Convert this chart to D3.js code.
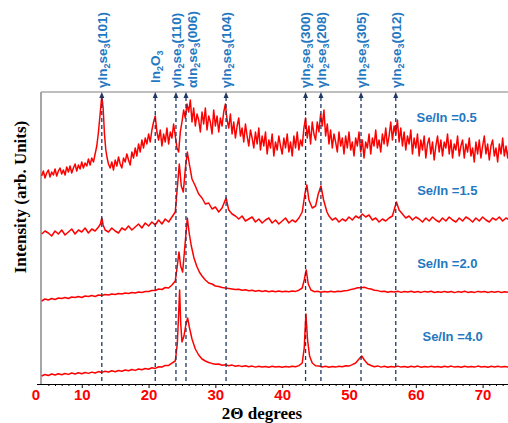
<!DOCTYPE html>
<html>
<head>
<meta charset="utf-8">
<script src="https://cdnjs.cloudflare.com/ajax/libs/d3/7.8.5/d3.min.js"></script>
<style>
body { margin: 0; background: #fff; }
</style>
</head>
<body>
<div id="chart"></div>
<script>
// ---- data: [2theta, intensity (arb.)] ----
const seIn05 = [[4,208],[4.25,213],[4.5,206],[4.75,211],[5,214],[5.25,207],[5.5,212],[5.75,209],[6,215],[6.25,208],[6.5,213],[6.75,216],[7,210],[7.25,214],[7.5,209],[7.75,217],[8,212],[8.25,218],[8.5,211],[8.75,216],[9,220],[9.25,213],[9.5,219],[9.75,215],[10,222],[10.25,216],[10.5,221],[10.75,218],[11,225],[11.25,219],[11.5,226],[11.75,222],[12,230],[12.25,238],[12.5,252],[12.75,270],[13,288],[13.2,276],[13.4,250],[13.6,234],[13.8,226],[14,220],[14.25,216],[14.5,222],[14.75,214],[15,224],[15.25,218],[15.5,227],[15.75,220],[16,216],[16.25,226],[16.5,222],[16.75,230],[17,224],[17.25,219],[17.5,232],[17.75,226],[18,236],[18.25,228],[18.5,240],[18.75,232],[19,244],[19.25,236],[19.5,246],[19.75,240],[20,250],[20.25,242],[20.5,254],[20.75,262],[21,268],[21.25,252],[21.5,244],[21.75,254],[22,238],[22.25,250],[22.5,242],[22.75,256],[23,240],[23.25,252],[23.5,246],[23.75,260],[24,248],[24.25,236],[24.5,232],[24.75,252],[25,262],[25.25,274],[25.5,266],[25.75,280],[26,272],[26.25,284],[26.5,262],[26.75,276],[27,258],[27.25,270],[27.5,264],[27.75,252],[28,272],[28.25,260],[28.5,276],[28.75,254],[29,268],[29.25,262],[29.5,250],[29.75,274],[30,258],[30.25,268],[30.5,252],[30.75,266],[31,258],[31.25,272],[31.5,280],[31.75,264],[32,256],[32.25,270],[32.5,250],[32.75,262],[33,246],[33.25,258],[33.5,266],[33.75,248],[34,256],[34.25,242],[34.5,260],[34.75,248],[35,238],[35.25,254],[35.5,246],[35.75,236],[36,252],[36.25,240],[36.5,256],[36.75,234],[37,248],[37.25,238],[37.5,252],[37.75,230],[38,244],[38.25,236],[38.5,250],[38.75,228],[39,242],[39.25,234],[39.5,248],[39.75,238],[40,230],[40.25,246],[40.5,236],[40.75,250],[41,232],[41.25,242],[41.5,228],[41.75,248],[42,236],[42.25,252],[42.5,234],[42.75,244],[43,238],[43.25,256],[43.5,266],[43.75,246],[44,258],[44.25,240],[44.5,262],[44.75,250],[45,244],[45.25,262],[45.5,252],[45.75,270],[46,258],[46.25,274],[46.5,248],[46.75,260],[47,240],[47.25,254],[47.5,236],[47.75,250],[48,242],[48.25,232],[48.5,252],[48.75,238],[49,246],[49.25,230],[49.5,248],[49.75,236],[50,252],[50.25,234],[50.5,242],[50.75,228],[51,246],[51.25,238],[51.5,252],[51.75,232],[52,244],[52.25,226],[52.5,242],[52.75,236],[53,250],[53.25,230],[53.5,246],[53.75,238],[54,254],[54.25,236],[54.5,244],[54.75,232],[55,250],[55.25,240],[55.5,256],[55.75,238],[56,248],[56.25,262],[56.5,244],[56.75,258],[57,250],[57.25,264],[57.5,242],[57.75,256],[58,238],[58.25,252],[58.5,234],[58.75,248],[59,240],[59.25,254],[59.5,230],[59.75,246],[60,236],[60.25,250],[60.5,228],[60.75,244],[61,234],[61.25,248],[61.5,226],[61.75,240],[62,246],[62.25,230],[62.5,242],[62.75,224],[63,238],[63.25,248],[63.5,232],[63.75,244],[64,228],[64.25,242],[64.5,236],[64.75,250],[65,230],[65.25,244],[65.5,226],[65.75,240],[66,234],[66.25,248],[66.5,228],[66.75,238],[67,244],[67.25,226],[67.5,240],[67.75,232],[68,246],[68.25,228],[68.5,236],[68.75,222],[69,242],[69.25,230],[69.5,244],[69.75,226],[70,238],[70.25,248],[70.5,230],[70.75,240],[71,224],[71.25,238],[71.5,244],[71.75,228],[72,236],[72.25,222],[72.5,240],[72.75,230],[73,246],[73.25,228],[73.5,238],[73.75,226],[74,240]];

const seIn15 = [[4,150],[4.5,153],[5,151],[5.5,148],[6,153],[6.5,150],[7,154],[7.5,149],[8,152],[8.5,155],[9,150],[9.5,154],[10,152],[10.5,156],[11,151],[11.5,155],[12,153],[12.5,157],[12.8,160],[13,166],[13.2,159],[13.5,154],[14,152],[14.5,156],[15,153],[15.5,151],[16,156],[16.5,154],[17,158],[17.5,154],[18,157],[18.5,160],[19,156],[19.5,161],[20,158],[20.5,162],[21,159],[21.5,164],[22,160],[22.5,165],[23,162],[23.5,167],[24,172],[24.3,196],[24.6,220],[24.9,198],[25.2,192],[25.5,215],[25.8,232],[26.1,220],[26.5,205],[27,198],[27.5,190],[28,186],[28.5,180],[29,181],[29.5,175],[30,177],[30.5,172],[31,176],[31.6,186],[32,174],[32.5,170],[33,168],[33.5,165],[34,168],[34.5,163],[35,165],[35.5,167],[36,162],[36.5,165],[37,161],[37.5,164],[38,166],[38.5,161],[39,164],[39.5,160],[40,163],[40.5,166],[41,161],[41.5,164],[42,162],[42.5,166],[43,172],[43.4,190],[43.7,199],[44,184],[44.5,176],[45,178],[45.4,190],[45.8,198],[46.2,184],[46.7,172],[47,168],[47.5,164],[48,166],[48.5,162],[49,165],[49.5,163],[50,167],[50.5,164],[51,168],[51.5,166],[52,170],[52.5,167],[53,169],[53.5,164],[54,166],[54.5,162],[55,165],[55.5,163],[56,166],[56.5,168],[57.1,182],[57.5,174],[58,170],[58.5,166],[59,168],[59.5,164],[60,167],[60.5,165],[61,162],[61.5,166],[62,163],[62.5,167],[63,164],[63.5,162],[64,166],[64.5,163],[65,167],[65.5,164],[66,162],[66.5,166],[67,163],[67.5,167],[68,165],[68.5,162],[69,166],[69.5,163],[70,167],[70.5,164],[71,162],[71.5,166],[72,164],[72.5,167],[73,163],[73.5,166],[74,164]];

const seIn20 = [[4,83],[4.5,85],[5,84],[5.5,85.5],[6,84.5],[6.5,86],[7,85.5],[7.5,86.5],[8,85.5],[8.5,87],[9,86.5],[9.5,87.5],[10,86.5],[10.5,88],[11,87.5],[11.5,88.5],[12,87.5],[12.5,89],[13,88.5],[13.5,89.5],[14,89],[14.5,90],[15,89.5],[15.5,90.5],[16,90],[16.5,91],[17,90.5],[17.5,91.5],[18,91],[18.5,92],[19,91.5],[19.5,92.5],[20,92.5],[20.5,93.5],[21,93.5],[21.5,95],[22,94.5],[22.5,96.5],[23,96],[23.5,99],[24,103],[24.3,118],[24.55,132],[24.8,118],[25.1,112],[25.4,135],[25.8,166],[26.1,150],[26.4,138],[26.8,126],[27.2,118],[27.6,112],[28,108],[28.5,104],[29,101],[29.5,100],[30,98],[30.5,97.5],[31,96.5],[31.5,96],[32,95.5],[32.5,95],[33,94.5],[33.5,94.8],[34,93.8],[34.5,94.2],[35,93.2],[35.5,93.8],[36,92.8],[36.5,93.5],[37,92.5],[37.5,93.2],[38,92.3],[38.5,93],[39,92.2],[39.5,93],[40,92.2],[40.5,92.8],[41,92.3],[41.5,93],[42,92.6],[42.5,93.8],[43,96],[43.3,104],[43.6,114],[43.9,100],[44.3,94],[44.8,92.3],[45.3,92.8],[45.8,91.8],[46.3,92.6],[46.8,92],[47.3,92.8],[47.8,92],[48.3,92.8],[48.8,92.4],[49.3,93.2],[49.8,93.5],[50.3,94.6],[50.8,95.2],[51.3,96.2],[51.8,96.2],[52.3,96.8],[52.8,95.6],[53.3,95],[53.8,93.8],[54.3,93.4],[54.8,92.4],[55.3,92.8],[55.8,91.8],[56.3,92.6],[56.8,91.9],[57.3,92.7],[57.8,91.6],[58.3,92.5],[58.8,92],[59.3,92.8],[59.8,91.7],[60.3,92.4],[60.8,91.6],[61.3,92.6],[61.8,92],[62.3,92.7],[62.8,91.5],[63.3,92.3],[63.8,91.7],[64.3,92.6],[64.8,91.8],[65.3,92.5],[65.8,91.4],[66.3,92.4],[66.8,91.8],[67.3,92.7],[67.8,91.6],[68.3,92.3],[68.8,91.6],[69.3,92.6],[69.8,91.9],[70.3,92.5],[70.8,91.5],[71.3,92.4],[71.8,91.8],[72.3,92.6],[72.8,91.5],[73.3,92.3],[73.8,91.8],[74,92]];

const seIn40 = [[4,8],[4.5,9.5],[5,8.5],[5.5,10],[6,9],[6.5,10.3],[7,9.2],[7.5,10.5],[8,9.6],[8.5,11],[9,10],[9.5,11.2],[10,10.3],[10.5,11.5],[11,10.6],[11.5,11.9],[12,11],[12.5,12.4],[13,11.6],[13.5,12.8],[14,12],[14.5,13.2],[15,12.3],[15.5,13.5],[16,12.7],[16.5,14],[17,13.2],[17.5,14.5],[18,13.6],[18.5,15],[19,14.2],[19.5,15.5],[20,14.8],[20.5,16.2],[21,15.6],[21.5,17.2],[22,17],[22.5,18.6],[23,18.6],[23.5,20.8],[24,23],[24.3,40],[24.5,70],[24.65,94],[24.8,62],[25,42],[25.3,48],[25.6,60],[25.85,66],[26.1,57],[26.5,45],[27,35],[27.5,29],[28,25],[28.5,23],[29,21.5],[29.5,20.6],[30,19.8],[30.5,20],[31,18.8],[31.5,19.2],[32,18.2],[32.5,18.9],[33,17.8],[33.5,18.4],[34,17.4],[34.5,18.2],[35,17.3],[35.5,17.9],[36,16.9],[36.5,17.8],[37,17],[37.5,17.6],[38,16.8],[38.5,17.7],[39,16.9],[39.5,17.5],[40,16.8],[40.5,17.6],[41,16.9],[41.5,17.7],[42,17.2],[42.5,18.4],[43,21],[43.3,36],[43.55,70],[43.8,44],[44.1,28],[44.5,21],[45,18.2],[45.5,18],[46,17],[46.5,17.7],[47,16.8],[47.5,17.6],[48,16.9],[48.5,17.8],[49,17.2],[49.5,18.2],[50,17.9],[50.5,19.4],[51,21],[51.5,25],[51.9,28],[52.3,24],[52.8,20],[53.3,18.5],[53.8,17.3],[54.3,18.1],[54.8,16.9],[55.3,17.8],[55.8,16.8],[56.3,17.6],[56.8,17],[57.3,17.9],[57.8,16.9],[58.3,17.5],[58.8,16.8],[59.3,17.7],[59.8,17.1],[60.3,17.9],[60.8,16.8],[61.3,17.6],[61.8,16.9],[62.3,17.8],[62.8,17],[63.3,17.5],[63.8,16.7],[64.3,17.7],[64.8,17.1],[65.3,17.9],[65.8,16.9],[66.3,17.6],[66.8,16.8],[67.3,17.8],[67.8,17],[68.3,17.6],[68.8,16.9],[69.3,17.9],[69.8,17.1],[70.3,17.6],[70.8,16.8],[71.3,17.7],[71.8,17],[72.3,17.8],[72.8,16.9],[73.3,17.6],[73.8,17],[74,17.5]];

const seriesNames = ["Se/In =0.5", "Se/In =1.5", "Se/In =2.0", "Se/In =4.0"];
// where each name sits: [2theta, intensity]
const namePos = [[60.1, 267], [60.2, 194], [60.2, 121], [61, 48]];

// reflections: "_" marks a subscript digit
const peakPos = [13.0, 21.0, 24.1, 25.6, 31.6, 43.5, 45.8, 51.8, 57.0];
const peakLabels = ["γIn_2se_3(101)", "In_2O_3", "γIn_2se_3(110)", "αIn_2se_3(006)", "γIn_2se_3(104)",
  "γIn_2se_3(300)", "γIn_2se_3(208)", "γIn_2se_3(305)", "γIn_2se_3(012)"];

const xTicks = [10, 20, 30, 40, 50, 60, 70];

// ---- layout ----
const width = 508, height = 423;
const plot = {left: 41, right: 508, top: 92, bottom: 384};
const red = "#ff0000", navy = "#1f3864", blue = "#1f78c1";

let svg = d3.select("#chart").append("svg")
  .attr("width", width)
  .attr("height", height)
  .style("display", "block");

let xScale = d3.scaleLinear().domain([3.9, 73.8]).range([plot.left, plot.right]);
let yScale = d3.scaleLinear().domain([0, 292]).range([plot.bottom, plot.top]);

svg.append("defs").append("clipPath").attr("id", "clip")
  .append("rect")
  .attr("x", plot.left).attr("y", plot.top)
  .attr("width", plot.right - plot.left).attr("height", plot.bottom - plot.top);

// frame: gray left and top
svg.append("line")
  .attr("x1", plot.left).attr("x2", plot.right)
  .attr("y1", plot.top).attr("y2", plot.top)
  .attr("stroke", "#7f7f7f").attr("stroke-width", 1);
svg.append("line")
  .attr("x1", plot.left).attr("x2", plot.left)
  .attr("y1", plot.top).attr("y2", plot.bottom)
  .attr("stroke", "#a6a6a6").attr("stroke-width", 2);

// traces
let lineGenerator = d3.line()
  .x(d => xScale(d[0]))
  .y(d => yScale(d[1]));

svg.append("g").attr("clip-path", "url(#clip)")
  .selectAll("path")
  .data([seIn05, seIn15, seIn20, seIn40])
  .enter()
  .append("path")
  .attr("fill", "none")
  .attr("stroke", red)
  .attr("stroke-width", 1.5)
  .attr("stroke-linejoin", "round")
  .attr("d", lineGenerator);

// dashed reflection markers with arrow heads
let marks = svg.append("g");
marks.selectAll("line")
  .data(peakPos)
  .enter()
  .append("line")
  .attr("x1", d => xScale(d)).attr("x2", d => xScale(d))
  .attr("y1", plot.top + 5).attr("y2", plot.bottom)
  .attr("stroke", navy)
  .attr("stroke-width", 1.3)
  .attr("stroke-dasharray", "4,3");

marks.selectAll("path")
  .data(peakPos)
  .enter()
  .append("path")
  .attr("d", d => {
    let x = xScale(d);
    return `M${x},${plot.top} L${x - 2.5},${plot.top + 6} L${x + 2.5},${plot.top + 6} Z`;
  })
  .attr("fill", navy);

// rotated labels above the frame
let labels = svg.append("g")
  .style("font-family", "'Liberation Sans', Arial, sans-serif")
  .style("font-weight", "bold")
  .style("font-size", "13.5px")
  .attr("fill", blue);

peakLabels.forEach(function (lab, i) {
  let x = xScale(peakPos[i]);
  if (lab.startsWith("α")) x += 6;
  let y = lab.startsWith("In") ? plot.top - 9 : plot.top - 4;
  let t = labels.append("text")
    .attr("transform", `translate(${x},${y}) rotate(-90)`)
    .attr("dy", "0.36em");
  let parts = lab.split("_");
  parts.forEach(function (p, j) {
    if (j == 0) {
      t.append("tspan").text(p);
    } else {
      t.append("tspan").attr("dy", 3).style("font-size", "9px").text(p[0]);
      t.append("tspan").attr("dy", -3).text(p.slice(1));
    }
  });
});

// series names
svg.append("g")
  .selectAll("text")
  .data(seriesNames)
  .enter()
  .append("text")
  .attr("x", (d, i) => xScale(namePos[i][0]))
  .attr("y", (d, i) => yScale(namePos[i][1]))
  .attr("dy", "0.35em")
  .style("font-family", "'Liberation Sans', Arial, sans-serif")
  .style("font-weight", "bold")
  .style("font-size", "13px")
  .attr("fill", blue)
  .text(d => d);

// x axis: minor ticks every degree, major every 10
let minor = svg.append("g")
  .attr("transform", `translate(0,${plot.bottom})`)
  .call(d3.axisBottom(xScale)
    .tickValues(d3.range(5, 74).filter(v => v % 10 != 0))
    .tickSize(2)
    .tickFormat(""));
minor.select(".domain").remove();

let xAxis = svg.append("g")
  .attr("transform", `translate(0,${plot.bottom})`)
  .call(d3.axisBottom(xScale).tickValues(xTicks).tickSize(4).tickSizeOuter(0).tickPadding(1));
xAxis.select(".domain").attr("stroke", "#000").attr("d", `M${plot.left - 4},0.5H${plot.right}`);
xAxis.selectAll("text")
  .attr("fill", red)
  .style("font-family", "'Liberation Sans', Arial, sans-serif")
  .style("font-weight", "bold")
  .style("font-size", "15px");

// the lone "0" at the start of the axis
svg.append("text")
  .attr("x", plot.left - 5)
  .attr("y", plot.bottom + 16)
  .attr("text-anchor", "middle")
  .attr("fill", red)
  .style("font-family", "'Liberation Sans', Arial, sans-serif")
  .style("font-weight", "bold")
  .style("font-size", "15px")
  .text("0");

// axis titles
svg.append("text")
  .attr("x", 262)
  .attr("y", 419)
  .attr("text-anchor", "middle")
  .style("font-family", "'Liberation Serif', 'Times New Roman', serif")
  .style("font-weight", "bold")
  .style("font-size", "17px")
  .text("2Θ degrees");

svg.append("text")
  .attr("transform", "translate(26,197) rotate(-90)")
  .attr("text-anchor", "middle")
  .style("font-family", "'Liberation Serif', 'Times New Roman', serif")
  .style("font-weight", "bold")
  .style("font-size", "17px")
  .text("Intensity (arb. Units)");
</script>
</body>
</html>
